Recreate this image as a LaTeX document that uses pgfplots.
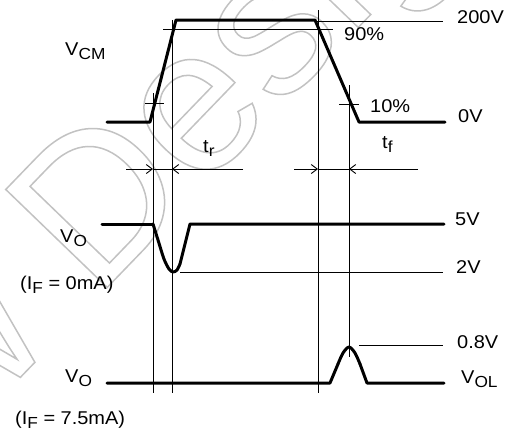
\documentclass[border=0pt]{standalone}
\usepackage{fontspec}
\setmainfont{Liberation Sans}[FakeStretch=1.08]
\newfontfamily\wmfont{Liberation Sans}
\usepackage{pgfplots}
\pgfplotsset{compat=1.18}
\usetikzlibrary{arrows.meta}
\newcommand\sub[1]{\raisebox{-4pt}{\fontsize{16}{16}\selectfont #1}}
\tikzset{
  thk/.style={black, line width=3pt, line cap=round, line join=round},
  thn/.style={black, line width=0.9pt},
  arr/.style={black, line width=0.9pt, -{Straight Barb[length=6pt,width=9pt]}},
  lab/.style={anchor=base west, inner sep=0pt, font=\fontsize{18.5}{19}\selectfont}}
\begin{document}
\begin{tikzpicture}[x=1pt,y=1pt]
\useasboundingbox (0,0) rectangle (515,432);
\begin{scope}
\clip (0,0) rectangle (515,432);
\node[rotate=46, inner sep=0, font=\wmfont\fontsize{205}{205}\selectfont] at (117,231) {\special{pdf:literal direct q 1 Tr 1.5 w 0.76 G}New Design\special{pdf:literal direct Q}};
\end{scope}
\begin{axis}[at={(0,0)}, anchor=south west, width=515pt, height=432pt, scale only axis, hide axis,
  xmin=0, xmax=515, ymin=0, ymax=432, y dir=reverse, clip=false,
  every axis plot/.append style={mark=none}]
% thin reference lines
\addplot[thn] coordinates {(315,21) (443,21)};
\addplot[thn] coordinates {(163,29) (333,29)};
\addplot[thn] coordinates {(145,103) (164,103)};
\addplot[thn] coordinates {(339,104) (359,104)};
\addplot[thn] coordinates {(153,93) (153,393)};
\addplot[thn] coordinates {(172,20) (172,393)};
\addplot[thn] coordinates {(318,10) (318,393)};
\addplot[thn] coordinates {(349,85) (349,357)};
\addplot[thn] coordinates {(180,272) (443,272)};
\addplot[thn] coordinates {(359,345) (443,345)};
% arrows
\addplot[arr] coordinates {(126,169) (153,169)};
\addplot[thn] coordinates {(153,169) (172,169)};
\addplot[arr] coordinates {(243,169) (172,169)};
\addplot[arr] coordinates {(294,169) (318,169)};
\addplot[thn] coordinates {(318,169) (349,169)};
\addplot[arr] coordinates {(418,169) (349,169)};
% V_CM
\addplot[thk] coordinates {(107,122) (150,122) (176,20) (315,20) (359,122) (445,122)};
% V_O (IF=0)
\addplot[thk] coordinates {(102,224) (153,224)};
\addplot[thk, smooth] coordinates {(153,224) (158,240) (164,259) (169,269) (173,272) (177,270) (180,264)};
\addplot[thk] coordinates {(180,264) (190,224) (444,224)};
% V_O (IF=7.5)
\addplot[thk] coordinates {(107,383) (330,383) (338,364)};
\addplot[thk, smooth] coordinates {(338,364) (343,353) (349,347) (355,353) (360,364)};
\addplot[thk] coordinates {(360,364) (367,383) (444,383)};
% labels
\node[lab] at (65,55) {V\sub{CM}};
\node[lab] at (457,23) {200V};
\node[lab] at (344,40) {90\%};
\node[lab] at (370,112) {10\%};
\node[lab] at (458,122) {0V};
\node[lab] at (203,152) {t\sub{r}};
\node[lab] at (382,148) {t\sub{f}};
\node[lab] at (60,242) {V\sub{O}};
\node[lab] at (20,289) {(I\sub{F} = 0mA)};
\node[lab] at (455,225) {5V};
\node[lab] at (456,273) {2V};
\node[lab] at (457,348) {0.8V};
\node[lab] at (65,382) {V\sub{O}};
\node[lab] at (461,383) {V\sub{OL}};
\node[lab] at (15,424) {(I\sub{F} = 7.5mA)};
\end{axis}
\end{tikzpicture}
\end{document}
